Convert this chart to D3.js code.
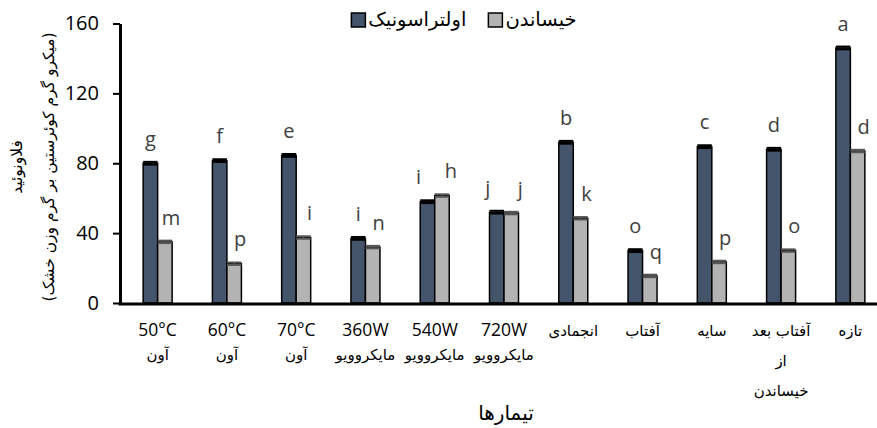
<!DOCTYPE html>
<html>
<head>
<meta charset="utf-8">
<script src="https://cdn.jsdelivr.net/npm/d3@7"></script>
<style>
  body { margin: 0; background: #fff; }
  svg { display: block; }
</style>
</head>
<body>
<svg id="chart" width="877" height="428"></svg>
<script>
// Treatment groups; "\n" separates the wrapped lines of each axis label
const categories = [
  "50°C\nآون", "60°C\nآون", "70°C\nآون",
  "360W\nمایکروویو", "540W\nمایکروویو", "720W\nمایکروویو",
  "انجمادی", "آفتاب", "سایه", "آفتاب بعد\nاز\nخیساندن", "تازه"
];
const seriesNames = ["اولتراسونیک", "خیساندن"];

// Flavonoid content (µg quercetin / g dry weight)
const ultrasonic = [80, 81.5, 84.5, 37, 58, 52, 92, 30, 89.5, 88, 146];
const soaking    = [35, 22.5, 37.5, 32, 61.5, 51.5, 48.5, 15.5, 23.5, 30, 87];
const ultrasonicErr = [0.8, 0.8, 0.8, 0.8, 0.8, 0.8, 0.8, 0.8, 0.8, 0.8, 0.8];
const soakingErr    = [0.7, 0.7, 0.7, 0.7, 0.7, 0.7, 0.7, 0.7, 0.7, 0.7, 0.7];

// Duncan grouping letters
const ultrasonicLetters = ["g", "f", "e", "i", "i", "j", "b", "o", "c", "d", "a"];
const soakingLetters    = ["m", "p", "i", "n", "h", "j", "k", "q", "p", "o", "d"];

const yTicks = [0, 40, 80, 120, 160];
const yTitleLines = ["فلاونوئید", "(میکرو گرم کوئرستین بر گرم وزن خشک)"];
const xTitle = "تیمارها";

const W = 877, H = 428;
const latinFont = "'Open Sans', Lato, sans-serif";
const persianFont = "'DejaVu Sans', sans-serif";
const colors = ["#44546a", "#b3b3b3"];
const capColors = ["#000000", "#555555"];

const svg = d3.select("#chart");
const axisX = 120;

const y = d3.scaleLinear().domain([0, 160]).range([303, 23.5]);
const x = d3.scaleBand().domain(categories).range([123, 885]);
const inner = d3.scaleBand().domain(seriesNames).range([-14.5, 14.5]);

const series = [
  { name: seriesNames[0], values: ultrasonic, err: ultrasonicErr, letters: ultrasonicLetters },
  { name: seriesNames[1], values: soaking, err: soakingErr, letters: soakingLetters }
];

// Bars
series.forEach((s, si) => {
  const g = svg.append("g");
  const bw = inner.bandwidth();
  categories.forEach((c, i) => {
    const x0 = x(c) + x.bandwidth() / 2 + inner(s.name);
    const v = s.values[i], e = s.err[i];
    g.append("rect")
      .attr("x", x0).attr("y", y(v))
      .attr("width", bw).attr("height", y(0) - y(v))
      .attr("fill", colors[si])
      .attr("stroke", "#000").attr("stroke-width", 1.5);
    // error bar with caps
    g.append("line")
      .attr("x1", x0 + bw / 2).attr("x2", x0 + bw / 2)
      .attr("y1", y(v - e)).attr("y2", y(v + e))
      .attr("stroke", capColors[si]).attr("stroke-width", 1.5);
    [v + e, v - e].forEach(t => {
      g.append("line")
        .attr("x1", x0).attr("x2", x0 + bw)
        .attr("y1", y(t)).attr("y2", y(t))
        .attr("stroke", capColors[si]).attr("stroke-width", 2);
    });
  });
});

// Grouping letters above the bars
categories.forEach((c, i) => {
  const center = x(c) + x.bandwidth() / 2;
  const bw = inner.bandwidth();
  const bU = y(ultrasonic[i] + ultrasonicErr[i]) - 16;
  const bS = y(soaking[i] + soakingErr[i]) - 16;
  // spread the two letters apart when they sit at nearly the same height
  const close = Math.abs(bU - bS) < 8;
  const pos = [
    { x: center + inner(seriesNames[0]) + bw / 2 + (close ? -9 : 0), y: bU, t: ultrasonicLetters[i] },
    { x: center + inner(seriesNames[1]) + bw / 2 + (close ? 9 : 6), y: bS, t: soakingLetters[i] }
  ];
  pos.forEach(p => {
    svg.append("text")
      .attr("x", p.x).attr("y", p.y)
      .attr("text-anchor", "middle")
      .attr("font-family", latinFont).attr("font-size", 20)
      .attr("fill", "#404040")
      .text(p.t);
  });
});

// Y axis
const yAxis = svg.append("g")
  .attr("transform", `translate(${axisX},0)`)
  .call(d3.axisLeft(y).tickValues(yTicks).tickSize(7).tickPadding(14).tickSizeOuter(0));
yAxis.select(".domain").attr("stroke", "#000").attr("stroke-width", 3);
yAxis.selectAll(".tick line").attr("stroke", "#000").attr("stroke-width", 2);
yAxis.selectAll(".tick text")
  .attr("font-family", latinFont).attr("font-size", 20).attr("fill", "#000");

// X axis baseline
svg.append("line")
  .attr("x1", axisX - 1.5).attr("x2", W)
  .attr("y1", y(0) + 1).attr("y2", y(0) + 1)
  .attr("stroke", "#000").attr("stroke-width", 3);

// X tick labels (wrapped)
const isLatin = s => /^[\x00-\u024F°\s]+$/.test(s);
categories.forEach(c => {
  const cx = x(c) + x.bandwidth() / 2;
  const lines = c.split("\n");
  let by = 336;
  lines.forEach((ln, li) => {
    if (li > 0) by += isLatin(lines[li - 1]) ? 24 : 30;
    svg.append("text")
      .attr("x", cx).attr("y", by)
      .attr("text-anchor", "middle")
      .attr("font-family", isLatin(ln) ? latinFont : persianFont)
      .attr("font-size", isLatin(ln) ? 17.5 : 15)
      .attr("fill", "#000")
      .text(ln);
  });
});

// X axis title
svg.append("text")
  .attr("x", 506).attr("y", 420)
  .attr("text-anchor", "middle")
  .attr("font-family", persianFont).attr("font-size", 20)
  .attr("fill", "#000")
  .text(xTitle);

// Y axis title (two rotated lines)
[[22, 15.5, yTitleLines[0]], [54, 15.5, yTitleLines[1]]].forEach(([bx, fs, t]) => {
  svg.append("text")
    .attr("transform", `translate(${bx},167) rotate(-90)`)
    .attr("text-anchor", "middle")
    .attr("font-family", persianFont).attr("font-size", fs)
    .attr("fill", "#000")
    .text(t);
});

// Legend
const legend = svg.append("g");
let lx = 0;
series.forEach((s, si) => {
  if (si > 0) lx += 22;
  legend.append("rect")
    .attr("x", lx).attr("y", 13).attr("width", 14).attr("height", 14)
    .attr("fill", colors[si]).attr("stroke", "#000").attr("stroke-width", 1.5);
  lx += 17;
  const t = legend.append("text")
    .attr("x", lx).attr("y", 26)
    .attr("font-family", persianFont).attr("font-size", 19.5)
    .attr("fill", "#000")
    .text(s.name);
  lx += t.node().getComputedTextLength();
});
legend.attr("transform", `translate(${464 - lx / 2},0)`);
</script>
</body>
</html>
